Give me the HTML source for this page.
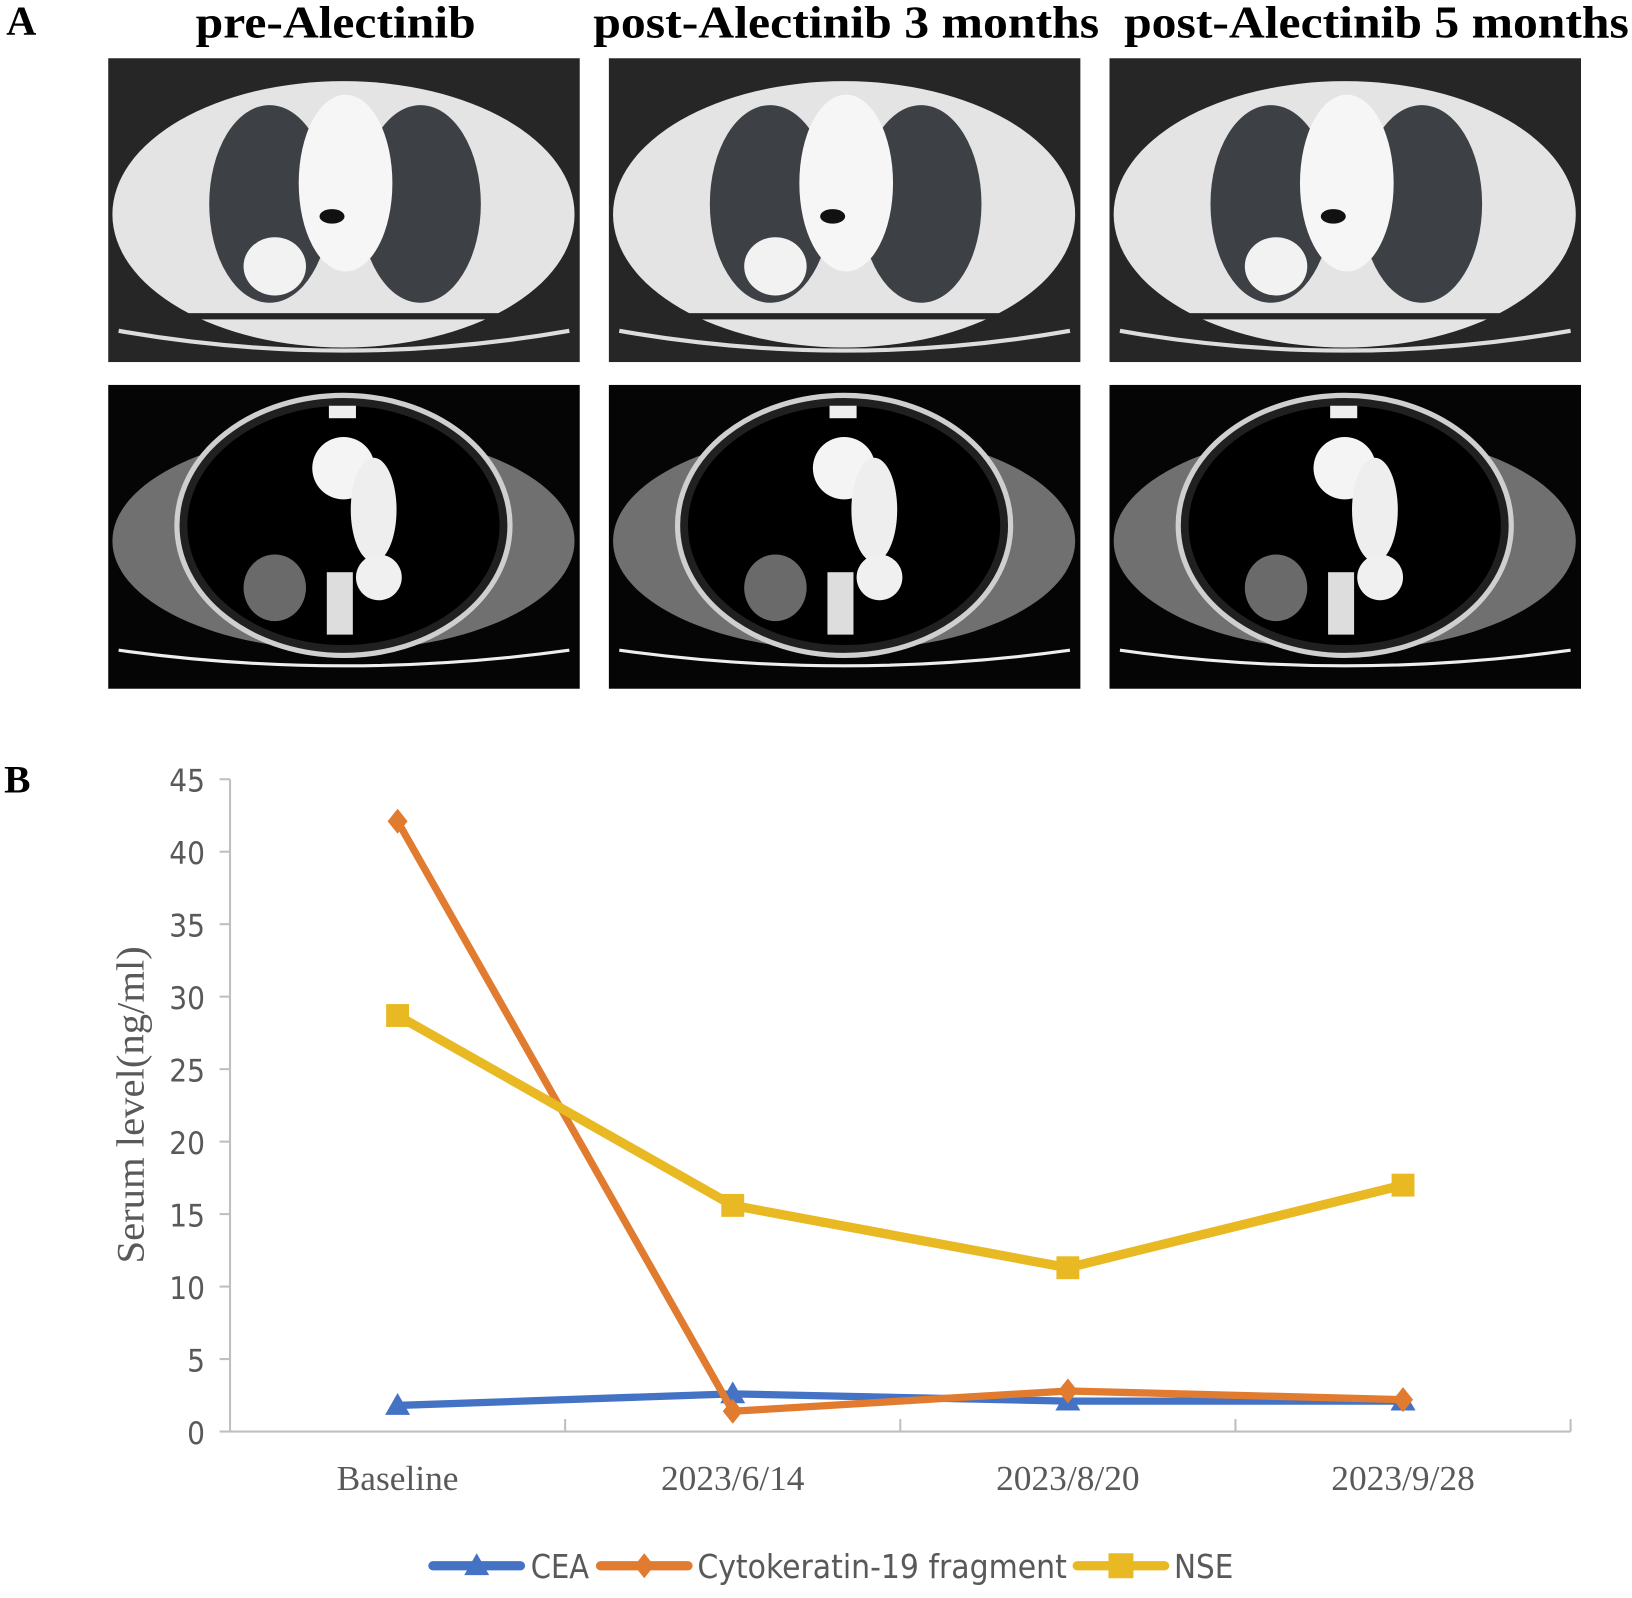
<!DOCTYPE html>
<html><head><meta charset="utf-8"><style>
html,body{margin:0;padding:0;background:#fff;}
svg{display:block;}
</style></head><body>
<svg width="1632" height="1598" viewBox="0 0 1568 1536" preserveAspectRatio="none" xmlns="http://www.w3.org/2000/svg">
<defs>
<g id="ct1">
  <rect x="0" y="0" width="453" height="292" fill="#262626"/>
  <ellipse cx="226" cy="150" rx="222" ry="128" fill="#e4e4e4"/>
  <rect x="4" y="245" width="445" height="6" fill="#262626"/>
  <path d="M10 262 Q226 300 443 262" stroke="#ddd" stroke-width="4" fill="none"/>
  <ellipse cx="155" cy="140" rx="58" ry="95" fill="#3d4146"/>
  <ellipse cx="300" cy="140" rx="58" ry="95" fill="#3d4146"/>
  <ellipse cx="228" cy="120" rx="45" ry="85" fill="#f6f6f6"/>
  <ellipse cx="160" cy="200" rx="30" ry="28" fill="#f2f2f2"/>
  <ellipse cx="215" cy="152" rx="12" ry="7" fill="#111"/>
</g>
<g id="ct2">
  <rect x="0" y="0" width="453" height="292" fill="#050505"/>
  <ellipse cx="226" cy="150" rx="222" ry="105" fill="#707070"/>
  <ellipse cx="226" cy="135" rx="160" ry="125" fill="#202020" stroke="#cfcfcf" stroke-width="5"/>
  <ellipse cx="226" cy="135" rx="150" ry="115" fill="#000"/>
  <ellipse cx="226" cy="80" rx="30" ry="30" fill="#f4f4f4"/>
  <ellipse cx="255" cy="120" rx="22" ry="50" fill="#eee"/>
  <ellipse cx="260" cy="185" rx="22" ry="22" fill="#f0f0f0"/>
  <rect x="210" y="180" width="25" height="60" fill="#ddd"/>
  <ellipse cx="160" cy="195" rx="30" ry="32" fill="#6a6a6a"/>
  <rect x="212" y="20" width="26" height="12" fill="#eee"/>
  <path d="M10 255 Q226 285 443 255" stroke="#eee" stroke-width="3" fill="none"/>
</g>
</defs>

<text x="6" y="33" font-family="Liberation Serif, serif" font-weight="bold" font-size="40">A</text>
<text x="188" y="36" textLength="269" lengthAdjust="spacingAndGlyphs" font-family="Liberation Serif, serif" font-weight="bold" font-size="44">pre-Alectinib</text>
<text x="570" y="36" textLength="486" lengthAdjust="spacingAndGlyphs" font-family="Liberation Serif, serif" font-weight="bold" font-size="44">post-Alectinib 3 months</text>
<text x="1080" y="36" textLength="485" lengthAdjust="spacingAndGlyphs" font-family="Liberation Serif, serif" font-weight="bold" font-size="44">post-Alectinib 5 months</text>

<use href="#ct1" x="104" y="56"/>
<use href="#ct1" x="585" y="56"/>
<use href="#ct1" x="1066" y="56"/>
<use href="#ct2" x="104" y="370"/>
<use href="#ct2" x="585" y="370"/>
<use href="#ct2" x="1066" y="370"/>

<text x="4" y="762" font-family="Liberation Serif, serif" font-weight="bold" font-size="38">B</text>
<text transform="translate(138,1062) rotate(-90)" text-anchor="middle" textLength="305" lengthAdjust="spacingAndGlyphs" font-family="Liberation Serif, serif" font-size="38" fill="#595959">Serum level(ng/ml)</text>
<g id="chart"></g>
</svg>
<script>
const categories = ["Baseline","2023/6/14","2023/8/20","2023/9/28"];
const yTicks = [0,5,10,15,20,25,30,35,40,45];
const ceaValues = [1.8,2.6,2.1,2.1];
const cyfraValues = [42.1,1.4,2.8,2.2];
const nseValues = [28.7,15.6,11.3,17.0];
const seriesNames = ["CEA","Cytokeratin-19 fragment","NSE"];

const NS="http://www.w3.org/2000/svg";
const g=document.getElementById('chart');
const x0=221,x1=1509,y0=1376,yTop=749;
const band=(x1-x0)/categories.length;
const xs=i=>x0+band*(i+0.5);
const ys=v=>y0-(v/45)*(y0-yTop);
function mk(t,a){const e=document.createElementNS(NS,t);for(const k in a)e.setAttribute(k,a[k]);g.appendChild(e);return e;}
let ax=mk('line',{x1:x0,y1:yTop,x2:x0,y2:y0,stroke:'#bfbfbf','stroke-width':2});


let bx=mk('line',{x1:x0,y1:y0,x2:x1,y2:y0,stroke:'#bfbfbf','stroke-width':2});


yTicks.forEach(v=>{
  const t=mk('line',{x1:x0-10,y1:ys(v),x2:x0,y2:ys(v),stroke:'#bfbfbf','stroke-width':2});
  
  
  const l=mk('text',{x:x0-24,y:ys(v)+12,'text-anchor':'end','font-family':'DejaVu Sans Condensed, Liberation Sans Narrow, sans-serif','font-size':30,fill:'#595959'});
  l.textContent=v;
  
  
});
for(let i=1;i<=categories.length;i++){
  const t=mk('line',{x1:x0+band*i,y1:y0,x2:x0+band*i,y2:y0-12,stroke:'#bfbfbf','stroke-width':2});
  
  
}
categories.forEach((c,i)=>{
  const l=mk('text',{x:xs(i),y:1432,'text-anchor':'middle','font-family':'Liberation Serif, serif','font-size':34,fill:'#595959'});
  l.textContent=c;
  
  
});
function marker(type,cx,cy,col,sz){
  if(type==='tri') return mk('polygon',{points:`${cx},${cy-sz} ${cx-sz},${cy+sz*0.75} ${cx+sz},${cy+sz*0.75}`,fill:col});
  if(type==='dia') return mk('polygon',{points:`${cx},${cy-sz} ${cx+sz*0.8},${cy} ${cx},${cy+sz} ${cx-sz*0.8},${cy}`,fill:col});
  return mk('rect',{x:cx-sz,y:cy-sz,width:sz*2,height:sz*2,fill:col});
}
const series=[[ceaValues,'#4472c4','tri'],[cyfraValues,'#e07b30','dia'],[nseValues,'#e8b923','sq']];
series.forEach(([vals,col,m],si)=>{
  const p=mk('polyline',{points:vals.map((v,i)=>xs(i)+','+ys(v)).join(' '),fill:'none',stroke:col,'stroke-width':si===2?9:7,'stroke-linejoin':'round'});
  
  
  vals.forEach((v,i)=>{
    const mm=marker(m,xs(i),ys(v),col,m==='sq'?11:12);
    
    
  });
});
const legX=[416,577,1035], legTX=[510,670,1128], legW=[56,355,57];
series.forEach(([vals,col,m],si)=>{
  const l=mk('line',{x1:legX[si],y1:1505,x2:legX[si]+84,y2:1505,stroke:col,'stroke-width':9,'stroke-linecap':'round'});
  
  
  const mm=marker(m,legX[si]+42,1505,col,12);
  
  
  const t=mk('text',{x:legTX[si],y:1517,textLength:legW[si],lengthAdjust:'spacingAndGlyphs','font-family':'DejaVu Sans Condensed, Liberation Sans Narrow, sans-serif','font-size':32,fill:'#595959'});
  t.textContent=seriesNames[si];
  
  
});
</script>
</body></html>
